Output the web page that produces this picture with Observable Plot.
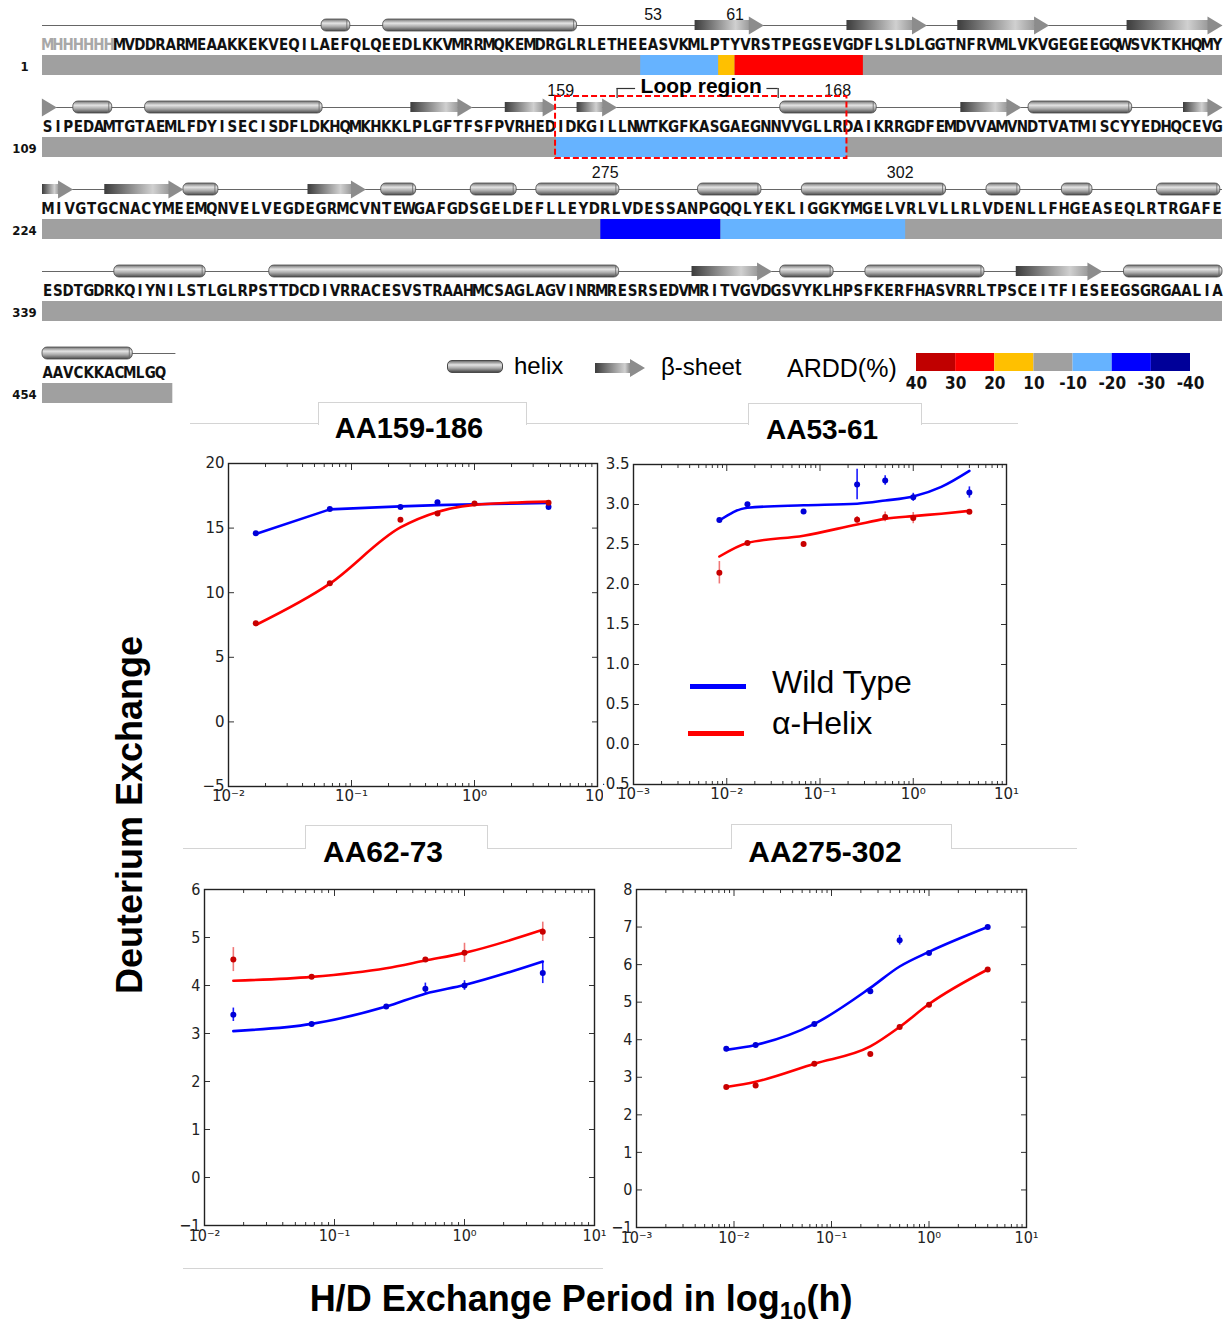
<!DOCTYPE html>
<html><head><meta charset="utf-8">
<script src="https://cdn.jsdelivr.net/npm/d3@7"></script>
<script src="https://cdn.jsdelivr.net/npm/@observablehq/plot@0.6"></script>
<style>
body{margin:0;background:#fff;}
#root{position:relative;width:1227px;height:1326px;overflow:hidden;background:#fff;font-family:"Liberation Sans",Arial,sans-serif;color:#000;}
#root > *{position:absolute;}
.hline{height:0;border-top:1px solid #d4d4d4;}
.tab{border:1px solid #d4d4d4;border-bottom:none;background:#fff;}
.title{font-weight:bold;white-space:nowrap;transform:translate(-50%,-50%);line-height:1;}
.lg{white-space:nowrap;line-height:1;transform:translateY(-50%);}
</style></head><body><div id="root"></div>
<script>
// ---------------- DATA ----------------
const rowStarts = [1, 109, 224, 339, 454];
const rowLabels = ["1", "109", "224", "339", "454"];
const rowSequences = [
  "MHHHHHHMVDDRARMEAAKKEKVEQILAEFQLQEEDLKKVMRRMQKEMDRGLRLETHEEASVKMLPTYVRSTPEGSEVGDFLSLDLGGTNFRVMLVKVGEGEEGQWSVKTKHQMY",
  "SIPEDAMTGTAEMLFDYISECISDFLDKHQMKHKKLPLGFTFSFPVRHEDIDKGILLNWTKGFKASGAEGNNVVGLLRDAIKRRGDFEMDVVAMVNDTVATMISCYYEDHQCEVG",
  "MIVGTGCNACYMEEMQNVELVEGDEGRMCVNTEWGAFGDSGELDEFLLEYDRLVDESSANPGQQLYEKLIGGKYMGELVRLVLLRLVDENLLFHGEASEQLRTRGAFE",
  "ESDTGDRKQIYNILSTLGLRPSTTDCDIVRRACESVSTRAAHMCSAGLAGVINRMRESRSEDVMRITVGVDGSVYKLHPSFKERFHASVRRLTPSCEITFIESEEGSGRGAALIA",
  "AAVCKKACMLGQ"
];
const rowSlots = [115, 115, 108, 115, 115];
const tagLength = 7;

// ARDD(%) bins: 0:40-30 1:30-20 2:20-10 3:10..-10 4:-10..-20 5:-20..-30 6:-30..-40
const arddColors = ["#c00000", "#ff0000", "#ffc000", "#a0a0a0", "#66b3ff", "#0000ff", "#000099"];
const arddLabels = ["40", "30", "20", "10", "-10", "-20", "-30", "-40"];

// coverage segments [row, startSlot, endSlot, bin]
const coverage = [
  [0, 0, 115, 3], [0, 58.3, 65.9, 4], [0, 65.9, 67.5, 2], [0, 67.5, 80.0, 1],
  [1, 0, 115, 3], [1, 50.1, 78.4, 4],
  [2, 0, 108, 3], [2, 51.1, 62.1, 5], [2, 62.1, 79.0, 4],
  [3, 0, 115, 3],
  [4, 0, 12.7, 3]
];
// secondary structure [row, startSlot, endSlot]
const helices = [
  [0, 27.2, 30.0], [0, 33.2, 52.1],
  [1, 3.0, 6.8], [1, 10.0, 27.3], [1, 71.9, 81.3], [1, 96.1, 106.2],
  [2, 12.9, 16.1], [2, 31.0, 34.2], [2, 39.2, 43.4], [2, 45.2, 52.8], [2, 60.0, 65.8], [2, 69.5, 82.7], [2, 86.4, 89.5], [2, 93.3, 96.1], [2, 102.0, 107.8],
  [3, 7.0, 15.9], [3, 22.1, 56.2], [3, 71.9, 77.1], [3, 80.2, 91.8], [3, 105.4, 115],
  [4, 0, 8.8]
];
const strands = [
  [0, 63.6, 70.3], [0, 78.4, 86.2], [0, 89.2, 98.1], [0, 105.7, 115],
  [1, 0, 1.4], [1, 35.9, 41.9], [1, 45.1, 50.2], [1, 52.1, 56.0], [1, 89.5, 95.4], [1, 111.2, 115],
  [2, 0, 2.8], [2, 5.7, 12.9], [2, 24.3, 29.6],
  [3, 63.3, 71.1], [3, 94.9, 103.3]
];
const backbone = [[0, 0, 115], [1, 0, 115], [2, 0, 108], [3, 0, 115], [4, 0, 13.0]];
const residueMarks = [
  {row: 0, residue: 53, text: "53"}, {row: 0, residue: 61, text: "61"},
  {row: 1, residue: 159, text: "159"}, {row: 1, residue: 186, text: "168"},
  {row: 2, residue: 275, text: "275"}, {row: 2, residue: 302, text: "302"}
];
const loopRegion = {row: 1, from: 159, to: 186, label: "Loop region", bracketFrom: 165, bracketTo: 180.7};

// H/D exchange panels: time in hours
const tA = [1/60, 4/60, 0.25, 0.5, 1, 4];
const tB = [0.5/60, 1/60, 4/60, 0.25, 0.5, 1, 4];
const tB2 = [0.5/60, 1/60, 4/60, 0.25, 0.5, 1, 2, 4];

// AA159-186
const p1WT = [14.6, 16.47, 16.63, 17.0, null, 16.63];
const p1AH = [7.64, 10.73, 15.64, 16.13, 16.91, 16.96];
const p1WTfit = [14.55, 16.45, 16.68, 16.78, 16.85, 16.95];
const p1AHfit = [7.5, 10.7, 15.05, 16.25, 16.8, 17.05];
// AA53-61
const p2WT = [2.807, 3.003, 2.911, 3.25, 3.30, 3.09, 3.15];
const p2WTerr = [0, 0, 0, 0.19, 0.06, 0.05, 0.07];
const p2AH = [2.147, 2.52, 2.506, 2.81, 2.845, 2.83, 2.91];
const p2AHerr = [0.14, 0, 0.03, 0.04, 0.06, 0.07, 0];
const p2WTfit = [2.80, 2.96, 2.99, 3.01, 3.05, 3.10, 3.22, 3.42];
const p2AHfit = [2.35, 2.52, 2.61, 2.75, 2.82, 2.855, 2.885, 2.92];
// AA62-73
const p3WT = [3.39, 3.2, 3.56, 3.93, 4.0, 4.26];
const p3WTerr = [0.14, 0, 0, 0.12, 0.1, 0.22];
const p3AH = [4.54, 4.18, null, 4.54, 4.68, 5.12];
const p3AHerr = [0.25, 0, 0, 0, 0.2, 0.2];
const p3WTfit = [3.05, 3.2, 3.56, 3.83, 4.01, 4.5];
const p3AHfit = [4.10, 4.18, 4.36, 4.52, 4.68, 5.16];
// AA275-302
const p4WT = [3.76, 3.86, 4.42, 5.29, 6.65, 6.31, 7.0];
const p4WTerr = [0.05, 0, 0, 0.08, 0.13, 0, 0];
const p4AH = [2.74, 2.78, 3.36, 3.62, 4.34, 4.93, 5.87];
const p4AHerr = [0, 0.05, 0, 0.05, 0.06, 0, 0];
const p4WTfit = [3.73, 3.86, 4.42, 5.38, 5.95, 6.34, 7.0];
const p4AHfit = [2.74, 2.88, 3.36, 3.82, 4.34, 4.95, 5.87];

const panelTitles = ["AA159-186", "AA53-61", "AA62-73", "AA275-302"];
const legendNames = ["Wild Type", "α-Helix"];

// ---------------- DRAW ----------------
const root = document.getElementById("root");
const narrow = "'Liberation Sans Narrow','DejaVu Sans Condensed','Liberation Sans',sans-serif";
const sans = "'Liberation Sans',Arial,sans-serif";
const toObj = ([row, start, end]) => ({row, x1: start / rowSlots[row], x2: end / rowSlots[row]});

const chars = [];
rowSequences.forEach((s, row) => [...s].forEach((ch, i) =>
  chars.push({row, pos: (i + 0.5) / rowSlots[row], ch, tag: row === 0 && i < tagLength})));
const rowsData = rowLabels.map((label, row) => ({row, label}));
const cov = coverage.map(([row, s, e, bin]) => ({row, x1: s / rowSlots[row], x2: e / rowSlots[row], fill: arddColors[bin]}));
const hel = helices.map(toObj), str = strands.map(toObj), bb = backbone.map(toObj);
const resPos = d => (d.residue - rowStarts[d.row] + (d.row === 0 ? tagLength : 0) + 0.5) / rowSlots[d.row];
const lr = loopRegion, ls = rowSlots[lr.row], l0 = rowStarts[lr.row];
const loopBox = {row: lr.row, x1: (lr.from - l0) / ls, x2: (lr.to - l0 + 1.4) / ls};
const loopCenter = (loopBox.x1 + loopBox.x2) / 2;
const gap = 6.4 / ls;
const bracketSegs = [
  {row: lr.row, x1: (lr.bracketFrom - l0) / ls, x2: loopCenter - gap},
  {row: lr.row, x1: loopCenter + gap, x2: (lr.bracketTo - l0) / ls}
];
const bracketEnds = [{row: lr.row, x: (lr.bracketFrom - l0) / ls}, {row: lr.row, x: (lr.bracketTo - l0) / ls}];

const headSymbol = {draw(ctx) { ctx.moveTo(-15, -9); ctx.lineTo(0, 0); ctx.lineTo(-15, 9); ctx.closePath(); }};

const seq = Plot.plot({
  width: 1227, height: 412, margin: 0,
  x: {domain: [0, 1], range: [42, 1222], axis: null},
  y: {type: "band", domain: [0, 1, 2, 3, 4], range: [24, 434], padding: 0, round: false, axis: null},
  color: {type: "identity"},
  style: {background: "transparent"},
  marks: [
    Plot.ruleY(bb, {y: "row", x1: "x1", x2: "x2", stroke: "#666", strokeWidth: 1, dy: -40}),
    Plot.barX(cov, {y: "row", x1: "x1", x2: "x2", fill: "fill", insetTop: 31, insetBottom: 31}),
    Plot.barX(hel, {y: "row", x1: "x1", x2: "x2", fill: "url(#hgrad)", stroke: "#4a4a4a", strokeWidth: 0.8, rx: 5, insetTop: 35, insetBottom: 35, dy: -40}),
    Plot.tickX(hel, {x: "x2", y: "row", dx: -3.5, dy: -40, insetTop: 35.5, insetBottom: 35.5, stroke: "#666", strokeWidth: 0.8}),
    Plot.barX(str, {y: "row", x1: "x1", x2: "x2", fill: "url(#sgrad)", insetTop: 36, insetBottom: 36, insetRight: 14, dy: -40}),
    Plot.dot(str, {x: "x2", y: "row", dy: -40, symbol: headSymbol, r: 5, fill: "#8c8c8c", stroke: "none"}),
    Plot.text(chars.filter(d => d.tag), {x: "pos", y: "row", text: "ch", dy: -20, fill: "#a8a8a8", fontSize: 15, fontWeight: "bold", fontFamily: narrow}),
    Plot.text(chars.filter(d => !d.tag), {x: "pos", y: "row", text: "ch", dy: -20, fill: "#111", fontSize: 15, fontWeight: "bold", fontFamily: narrow}),
    Plot.text(rowsData, {x: () => 0, y: "row", text: "label", dx: -18, dy: 1, fontSize: 13, fontWeight: "bold", fill: "#111", fontFamily: narrow}),
    Plot.text(residueMarks.filter(d => d.row === 0), {x: resPos, y: "row", text: "text", dy: -51, fontSize: 16, fill: "#111", fontFamily: sans}),
    Plot.text(residueMarks.filter(d => d.row > 0), {x: resPos, y: "row", text: "text", dy: -57, fontSize: 16, fill: "#111", fontFamily: sans}),
    Plot.barX([loopBox], {y: "row", x1: "x1", x2: "x2", fill: "none", stroke: "#ff0000", strokeWidth: 2, strokeDasharray: "6,3", insetTop: 10, insetBottom: 10, dy: -20}),
    Plot.text([loopBox], {x: () => loopCenter, y: "row", text: () => lr.label, dy: -61, fontSize: 21, fontWeight: "bold", fill: "#000", fontFamily: sans}),
    Plot.ruleY(bracketSegs, {y: "row", x1: "x1", x2: "x2", stroke: "#333", strokeWidth: 1.2, dy: -59}),
    Plot.tickX(bracketEnds, {x: "x", y: "row", insetTop: 36, insetBottom: 36, dy: -54, stroke: "#333", strokeWidth: 1.2})
  ]
});
const sd = d3.select(seq);
const defs = sd.insert("defs", ":first-child");
const hg = defs.append("linearGradient").attr("id", "hgrad").attr("x1", 0).attr("y1", 0).attr("x2", 0).attr("y2", 1);
[[0, "#707070"], [0.35, "#e4e4e4"], [0.65, "#a8a8a8"], [1, "#4a4a4a"]].forEach(([o, c]) => hg.append("stop").attr("offset", o).attr("stop-color", c));
const sg = defs.append("linearGradient").attr("id", "sgrad").attr("x1", 0).attr("y1", 0).attr("x2", 1).attr("y2", 0);
[[0, "#3c3c3c"], [0.75, "#d0d0d0"], [1, "#9a9a9a"]].forEach(([o, c]) => sg.append("stop").attr("offset", o).attr("stop-color", c));
seq.style.left = "0px"; seq.style.top = "0px";
root.appendChild(seq);

// ARDD color bar
const bar = Plot.plot({
  width: 310, height: 52, marginTop: 8, marginBottom: 26, marginLeft: 16, marginRight: 20,
  x: {domain: [0, 7], axis: null}, y: {axis: null}, color: {type: "identity"},
  style: {background: "transparent"},
  marks: [
    Plot.barX(arddColors.map((c, i) => ({i, c})), {x1: "i", x2: d => d.i + 1, fill: "c"}),
    Plot.text(arddLabels, {x: (d, i) => i, text: d => d, frameAnchor: "bottom", dy: 17, fontWeight: "bold", fontSize: 17, fill: "#111", fontFamily: narrow})
  ]
});
bar.style.left = "900px"; bar.style.top = "345px";
root.appendChild(bar);

// panels
const sup = {"-3": "⁻³", "-2": "⁻²", "-1": "⁻¹", "0": "⁰", "1": "¹"};
const logFmt = d => "10" + sup[String(Math.round(Math.log10(d)))];
const blank = () => "";
function makePanel(p) {
  const e0 = Math.round(Math.log10(p.xDomain[0])), e1 = Math.round(Math.log10(p.xDomain[1]));
  const majors = d3.range(e0, e1 + 1).map(e => Math.pow(10, e));
  const minors = [];
  for (let e = e0; e < e1; e++) for (let k = 2; k < 10; k++) minors.push(k * Math.pow(10, e));
  const pts = (t, v, err) => t.map((x, i) => ({t: x, v: v[i], e: err ? err[i] : 0})).filter(d => d.v != null);
  const wt = pts(p.t, p.wt, p.wtErr), ah = pts(p.t, p.ah, p.ahErr);
  const wtFit = pts(p.fitT, p.wtFit), ahFit = pts(p.fitT, p.ahFit);
  const fs = p.fontSize;
  const svg = Plot.plot({
    width: p.width, height: p.height,
    marginLeft: p.mL, marginTop: p.mT, marginRight: p.mR, marginBottom: p.mB,
    x: {type: "log", domain: p.xDomain, label: null},
    y: {domain: p.yDomain, label: null},
    style: {background: "white", color: "#222", fontFamily: p.font, fontSize: fs + "px"},
    marks: [
      Plot.ruleX(ah.filter(d => d.e > 0), {x: "t", y1: d => d.v - d.e, y2: d => d.v + d.e, stroke: "#f07878", strokeWidth: 1.6}),
      Plot.ruleX(wt.filter(d => d.e > 0), {x: "t", y1: d => d.v - d.e, y2: d => d.v + d.e, stroke: "#1a1aff", strokeWidth: 1.6}),
      Plot.line(wtFit, {x: "t", y: "v", stroke: "#0000ff", strokeWidth: 2.6, curve: p.wtCurve || "monotone-x"}),
      Plot.line(ahFit, {x: "t", y: "v", stroke: "#ff0000", strokeWidth: 2.6, curve: "monotone-x"}),
      Plot.dot(wt, {x: "t", y: "v", r: 3, fill: "#0000d8"}),
      Plot.dot(ah, {x: "t", y: "v", r: 3, fill: "#c80000"}),
      Plot.axisX(majors, {anchor: "bottom", tickSize: 0, tickPadding: 4, tickFormat: logFmt, label: null, fontSize: fs}),
      Plot.axisY(p.yTicks, {anchor: "left", tickSize: 0, tickPadding: 4, tickFormat: p.yFormat, label: null, fontSize: fs}),
      Plot.axisX(majors, {anchor: "bottom", tickSize: 6, dy: -6, tickFormat: blank, label: null, stroke: "#333"}),
      Plot.axisX(majors, {anchor: "top", tickSize: 6, dy: 6, tickFormat: blank, label: null, stroke: "#333"}),
      Plot.axisX(minors, {anchor: "bottom", tickSize: 3, dy: -3, tickFormat: blank, label: null, stroke: "#333"}),
      Plot.axisX(minors, {anchor: "top", tickSize: 3, dy: 3, tickFormat: blank, label: null, stroke: "#333"}),
      Plot.axisY(p.yTicks, {anchor: "left", tickSize: 6, dx: 6, tickFormat: blank, label: null, stroke: "#333"}),
      Plot.axisY(p.yTicks, {anchor: "right", tickSize: 6, dx: -6, tickFormat: blank, label: null, stroke: "#333"}),
      Plot.frame({stroke: "#222", strokeWidth: 1.4})
    ]
  });
  svg.style.left = p.left + "px"; svg.style.top = p.top + "px";
  root.appendChild(svg);
}
const f1 = d3.format(".1f");
makePanel({left: 180, top: 440, width: 437, height: 375, mL: 48, mT: 23, mR: 20, mB: 29,
  xDomain: [0.01, 10], yDomain: [-5, 20], yTicks: [-5, 0, 5, 10, 15, 20], yFormat: d3.format("d"),
  t: tA, wt: p1WT, ah: p1AH, fitT: tA, wtFit: p1WTfit, ahFit: p1AHfit, wtCurve: "linear", font: "'DejaVu Sans',sans-serif", fontSize: 15});
makePanel({left: 603, top: 440, width: 423, height: 374, mL: 30, mT: 24, mR: 20, mB: 30,
  xDomain: [0.001, 10], yDomain: [-0.5, 3.5], yTicks: d3.range(-0.5, 3.51, 0.5), yFormat: f1,
  t: tB, wt: p2WT, wtErr: p2WTerr, ah: p2AH, ahErr: p2AHerr, fitT: tB2, wtFit: p2WTfit, ahFit: p2AHfit, font: "'DejaVu Sans',sans-serif", fontSize: 15});
makePanel({left: 165, top: 866, width: 449, height: 389, mL: 39, mT: 23, mR: 20, mB: 30,
  xDomain: [0.01, 10], yDomain: [-1, 6], yTicks: d3.range(-1, 7), yFormat: d3.format("d"),
  t: tA, wt: p3WT, wtErr: p3WTerr, ah: p3AH, ahErr: p3AHerr, fitT: tA, wtFit: p3WTfit, ahFit: p3AHfit, font: "'DejaVu Sans Condensed','DejaVu Sans',sans-serif", fontSize: 16});
makePanel({left: 612, top: 866, width: 434, height: 391, mL: 24, mT: 23, mR: 20, mB: 30,
  xDomain: [0.001, 10], yDomain: [-1, 8], yTicks: d3.range(-1, 9), yFormat: d3.format("d"),
  t: tB, wt: p4WT, wtErr: p4WTerr, ah: p4AH, ahErr: p4AHerr, fitT: tB, wtFit: p4WTfit, ahFit: p4AHfit, font: "'DejaVu Sans Condensed','DejaVu Sans',sans-serif", fontSize: 16});

// decorations (HTML)
function add(html) { root.insertAdjacentHTML("beforeend", html); }
add(`<div class="hline" style="left:190px;top:423px;width:828px"></div>`);
add(`<div class="hline" style="left:183px;top:848px;width:894px"></div>`);
add(`<div class="hline" style="left:183px;top:1268px;width:420px"></div>`);
add(`<div class="tab" style="left:318px;top:402px;width:207px;height:22px"></div>`);
add(`<div class="tab" style="left:748px;top:403px;width:172px;height:21px"></div>`);
add(`<div class="tab" style="left:305px;top:825px;width:181px;height:23px"></div>`);
add(`<div class="tab" style="left:731px;top:824px;width:219px;height:24px"></div>`);
add(`<div class="title" style="left:409px;top:428px;font-size:29px">${panelTitles[0]}</div>`);
add(`<div class="title" style="left:822px;top:430px;font-size:28px">${panelTitles[1]}</div>`);
add(`<div class="title" style="left:383px;top:852px;font-size:30px">${panelTitles[2]}</div>`);
add(`<div class="title" style="left:825px;top:852px;font-size:30px">${panelTitles[3]}</div>`);
add(`<div class="title" style="left:130px;top:815px;font-size:36px;transform:translate(-50%,-50%) rotate(-90deg)">Deuterium Exchange</div>`);
add(`<div class="title" style="left:581px;top:1302px;font-size:36px">H/D Exchange Period in log<sub style="font-size:24px;vertical-align:-8px">10</sub>(h)</div>`);
// panel legend
add(`<div style="left:690px;top:684px;width:56px;height:5px;background:#0000ff"></div>`);
add(`<div style="left:688px;top:731px;width:56px;height:5px;background:#ff0000"></div>`);
add(`<div class="lg" style="left:772px;top:682px;font-size:32px">${legendNames[0]}</div>`);
add(`<div class="lg" style="left:772px;top:723px;font-size:32px">${legendNames[1]}</div>`);
// structure legend
add(`<div style="left:447px;top:360px;width:54px;height:11px;border:1px solid #4a4a4a;border-radius:5px;background:linear-gradient(to bottom,#707070,#e4e4e4 35%,#a8a8a8 65%,#4a4a4a)"></div>`);
add(`<div style="left:595px;top:359px;width:50px;height:18px;clip-path:polygon(0 22%,70% 22%,70% 0,100% 50%,70% 100%,70% 78%,0 78%);background:linear-gradient(to right,#3c3c3c,#d0d0d0 60%,#8c8c8c 70%)"></div>`);
add(`<div class="lg" style="left:514px;top:366px;font-size:24px">helix</div>`);
add(`<div class="lg" style="left:661px;top:367px;font-size:24px">β-sheet</div>`);
add(`<div class="lg" style="left:787px;top:368px;font-size:25px">ARDD(%)</div>`);
</script>
</body></html>
